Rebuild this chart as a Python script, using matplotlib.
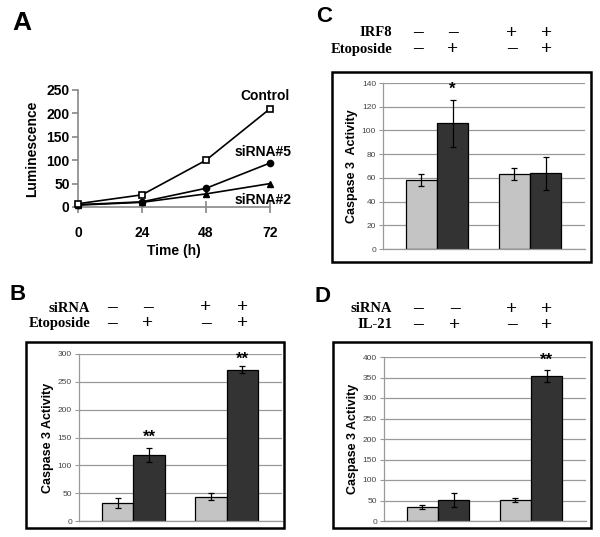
import matplotlib
matplotlib.use("Agg")
import matplotlib.pyplot as plt
from matplotlib.patches import Rectangle

plt.rcParams['font.family'] = ['Liberation Sans', 'DejaVu Sans']

# ---- panel A data: luminescence time course ----
time_h = [0, 24, 48, 72]
control = [7, 26, 100, 210]
sirna5 = [5, 11, 40, 94]
sirna2 = [4, 10, 28, 50]
control_err = [1, 2, 4, 3]

# ---- panel B-D data: caspase 3 activity (light, dark, light, dark) ----
b_vals = [32, 119, 44, 272]
b_errs = [9, 13, 7, 6]
c_vals = [58, 106, 63, 64]
c_errs = [5, 20, 5, 14]
d_vals = [35, 51, 52, 354]
d_errs = [5, 18, 5, 14]

b_rows = ["siRNA", "Etoposide"]
c_rows = ["IRF8", "Etoposide"]
d_rows = ["siRNA", "IL-21"]
row1_signs = ["–", "–", "+", "+"]
row2_signs = ["–", "+", "–", "+"]

W, H = 600, 537
fig = plt.figure(figsize=(6, 5.37), dpi=100)


def rect(x0, x1, ytop, ybot):
    return [x0 / W, 1 - ybot / H, (x1 - x0) / W, (ybot - ytop) / H]


def ftext(x, y, s, **kw):
    fig.text(x / W, 1 - y / H, s, **kw)


# ---------------- Panel A ----------------
axA = fig.add_axes(rect(78, 270, 90, 207))
axA.errorbar(time_h, control, yerr=control_err, color='black', lw=1.2,
             marker='s', ms=5, mfc='white', mec='black', mew=1.2,
             capsize=2, clip_on=False, zorder=3)
axA.plot(time_h, sirna5, color='black', lw=1.2, marker='o', ms=4.5,
         clip_on=False, zorder=3)
axA.plot(time_h, sirna2, color='black', lw=1.2, marker='^', ms=5,
         clip_on=False, zorder=3)
axA.set_xlim(0, 72)
axA.set_ylim(0, 250)
axA.set_xticks(time_h)
axA.set_yticks([0, 50, 100, 150, 200, 250])
for s in ['top', 'right']:
    axA.spines[s].set_visible(False)
for s in ['left', 'bottom']:
    axA.spines[s].set_color('#888888')
    axA.spines[s].set_linewidth(1.2)
axA.tick_params(axis='y', direction='out', length=4, color='#888888',
                width=1.2, labelsize=10, pad=2)
axA.tick_params(axis='x', direction='inout', length=9, color='#888888',
                width=1.2, labelsize=10, pad=9)
for lab in axA.get_xticklabels() + axA.get_yticklabels():
    lab.set_fontweight('bold')
axA.set_xlabel("Time (h)", fontsize=10, fontweight='bold', labelpad=3)
axA.set_ylabel("Luminescence", fontsize=10, fontweight='bold', labelpad=5)
axA.text(70, 238, "Control", ha='center', va='center', fontsize=10,
         fontweight='bold')
axA.text(69.5, 118, "siRNA#5", ha='center', va='center', fontsize=10,
         fontweight='bold')
axA.text(69.5, 16, "siRNA#2", ha='center', va='center', fontsize=10,
         fontweight='bold')
ftext(22, 23, "A", ha='center', va='center', fontsize=19, fontweight='bold')


# ---------------- bar panels ----------------
def bar_panel(box, plot, vals, errs, ymax, step, ylabel, stars, letter,
              letter_xy, rows, label_right, row_y, sign_x):
    fig.add_artist(Rectangle((box[0] / W, 1 - box[3] / H),
                             (box[1] - box[0]) / W, (box[3] - box[2]) / H,
                             transform=fig.transFigure, fill=False,
                             ec='black', lw=1.8))
    ax = fig.add_axes(rect(*plot))
    w = 0.335
    xs = [-w / 2, w / 2, 1 - w / 2, 1 + w / 2]
    cols = ['#c4c4c4', '#333333', '#c4c4c4', '#333333']
    ax.bar(xs, vals, width=w, color=cols, edgecolor='black', lw=0.9,
           zorder=2)
    ax.errorbar(xs, vals, yerr=errs, fmt='none', ecolor='black',
                elinewidth=0.9, capsize=2.5, capthick=0.9, zorder=3)
    for xi, yi, s in stars:
        ax.text(xs[xi], yi, s, ha='center', va='center', fontsize=12,
                fontweight='bold')
    ax.set_xlim(-0.58, 1.59)
    ax.set_ylim(0, ymax)
    ax.set_yticks(range(0, ymax + 1, step))
    ax.set_xticks([])
    ax.yaxis.grid(True, color='#999999', lw=0.9)
    ax.set_axisbelow(True)
    for s in ['top', 'right']:
        ax.spines[s].set_visible(False)
    for s in ['left', 'bottom']:
        ax.spines[s].set_color('#999999')
        ax.spines[s].set_linewidth(0.9)
    ax.tick_params(axis='y', length=3, color='#999999', labelsize=6,
                   labelcolor='#444444', pad=2)
    ax.set_ylabel(ylabel, fontsize=9, fontweight='bold', labelpad=3)
    ftext(letter_xy[0], letter_xy[1], letter, ha='center', va='center',
          fontsize=16, fontweight='bold')
    signs = [row1_signs, row2_signs]
    for r in range(2):
        ftext(label_right, row_y[r], rows[r], ha='right', va='center',
              fontsize=10.5, fontweight='bold', family='Liberation Serif')
        for k in range(4):
            ftext(sign_x[k], row_y[r], signs[r][k], ha='center',
                  va='center', fontsize=14, fontweight='bold',
                  family='Liberation Serif')
    return ax


bar_panel((26, 284, 342, 528), (79, 282, 354, 521), b_vals, b_errs, 300, 50,
          "Caspase 3 Activity", [(1, 150, "**"), (3, 290, "**")], "B",
          (18, 295), b_rows, 90, (308, 324), (112, 148, 206, 243))
bar_panel((332, 591, 72, 262), (383, 585, 83, 249), c_vals, c_errs, 140, 20,
          "Caspase 3  Activity", [(1, 135, "*")], "C",
          (324, 17), c_rows, 392, (33, 49), (418, 453, 512, 547))
bar_panel((333, 591, 342, 528), (384, 586, 357, 521), d_vals, d_errs, 400, 50,
          "Caspase 3 Activity", [(3, 392, "**")], "D",
          (323, 296), d_rows, 392, (309, 325), (418, 455, 512, 547))

fig.savefig("out.png", dpi=100)
